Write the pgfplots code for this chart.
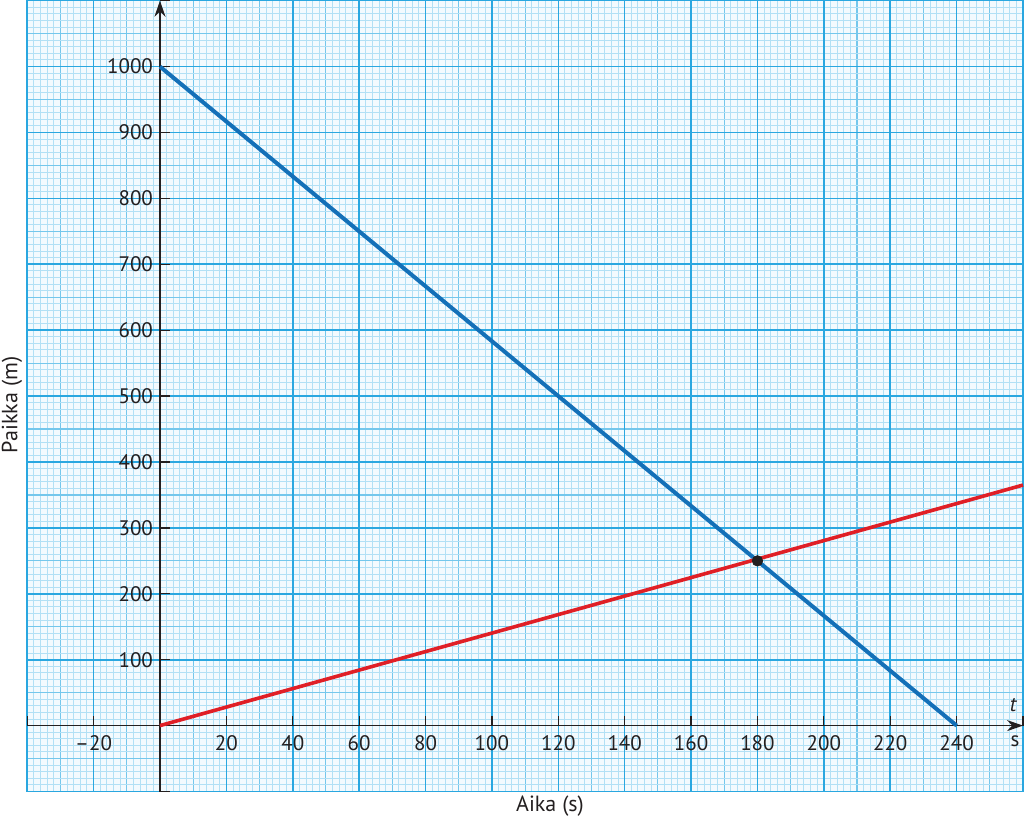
\documentclass[border=0pt]{standalone}
\usepackage{fontspec}
\setmainfont{PT Sans}
\usepackage{pgfplots}
\pgfplotsset{compat=1.18}
\usetikzlibrary{arrows.meta}
\definecolor{bgblue}{HTML}{F3FAFE}
\definecolor{minorblue}{HTML}{B2E0F5}
\definecolor{medblue}{HTML}{74C7EC}
\definecolor{majorblue}{HTML}{2AA7E0}
\definecolor{lineblue}{HTML}{1470B8}
\definecolor{linered}{HTML}{E01F26}
\definecolor{axisblack}{HTML}{231F20}
\begin{document}
\begin{tikzpicture}[font=\fontsize{10.5}{12}\selectfont]
\pgfplotsset{common/.style={scale only axis, width=497.9pt, height=395.4pt,
  xmin=-40, xmax=260, ymin=-100, ymax=1100, clip=false,
  /pgf/number format/assume math mode=true}}
% background graph paper
\begin{axis}[common,
  axis background/.style={fill=bgblue},
  xtick={-40,-30,...,260}, ytick={-100,-50,...,1100},
  minor x tick num=4, minor y tick num=4,
  grid=both,
  minor grid style={minorblue, line width=0.5pt},
  major grid style={medblue, line width=0.55pt},
  xticklabels={}, yticklabels={},
  major tick length=0pt, minor tick length=0pt,
  axis line style={majorblue, line width=0.8pt}]
\end{axis}
% main axis
\begin{axis}[common,
  axis lines=middle,
  axis line style={axisblack, line width=0.8pt, -{Stealth[length=8pt,width=5.5pt]}},
  xtick={-40,-20,...,260}, ytick={-100,0,...,1100},
  grid=major,
  major grid style={majorblue, line width=0.8pt},
  xticklabels={}, yticklabels={},
  tick align=inside,
  major tick length=5pt,
  tick style={axisblack, line width=0.6pt},
  extra x ticks={-20,20,40,60,80,100,120,140,160,180,200,220,240},
  extra x tick labels={–20,20,40,60,80,100,120,140,160,180,200,220,240},
  extra y ticks={100,200,300,400,500,600,700,800,900,1000},
  extra y tick labels={100,200,300,400,500,600,700,800,900,1000},
  extra tick style={grid=none, major tick length=0pt},
  xticklabel style={anchor=base, yshift=-12.2pt, text=axisblack},
  yticklabel style={anchor=east, text=axisblack},
  ]
\addplot[lineblue, line width=2pt] coordinates {(0,1000) (240,0)};
\addplot[linered, line width=1.8pt] coordinates {(0,0) (260,365)};
\addplot[only marks, mark=*, mark size=2.6pt, axisblack] coordinates {(180,250)};
\node[text=axisblack, font=\fontsize{10.5}{12}\selectfont\itshape] at (axis cs:257,31) {t};
\node[text=axisblack] at (axis cs:257.6,-23) {s};
\node[text=axisblack, rotate=90, font=\fontsize{11}{13}\selectfont] at (axis cs:-44.6,486.6) {Paikka (m)};
\node[text=axisblack, font=\fontsize{11}{13}\selectfont] at (axis cs:117.5,-122) {Aika (s)};
\coordinate (bl) at (rel axis cs:0,0);
\coordinate (tr) at (rel axis cs:1,1);
\end{axis}
\pgfresetboundingbox
\path ([shift={(-13.6pt,-16.25pt)}]bl) rectangle ([shift={(0.5pt,0.35pt)}]tr);
\end{tikzpicture}
\end{document}
